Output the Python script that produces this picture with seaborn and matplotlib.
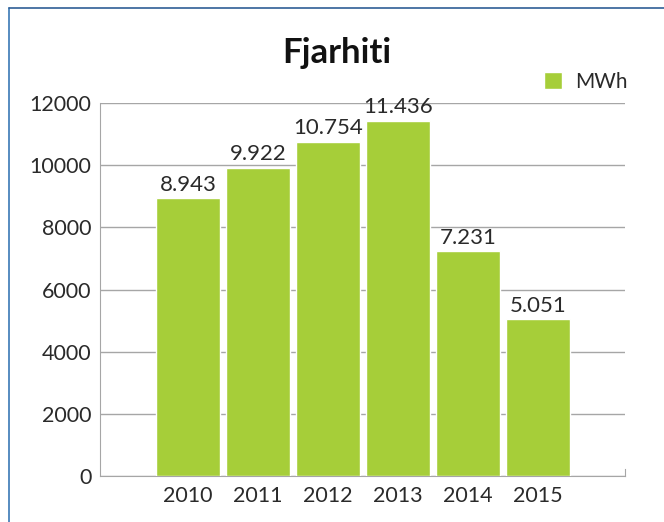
import numpy as np
import pandas as pd
import matplotlib
matplotlib.use("Agg")
import matplotlib.pyplot as plt
import seaborn as sns
from matplotlib.lines import Line2D

# data
years = ["2010", "2011", "2012", "2013", "2014", "2015"]
mwh = [8943, 9922, 10754, 11436, 7231, 5051]
yticks = [0, 2000, 4000, 6000, 8000, 10000, 12000]

sns.set_style("white")
plt.rcParams["font.family"] = ["Lato", "DejaVu Sans"]

green = "#a6ce39"
grid_col = "#a6a6a6"
txt_col = "#2a2a2a"

df = pd.DataFrame({"year": years, "MWh": mwh})

fig = plt.figure(figsize=(6.64, 5.22), dpi=100)
ax = fig.add_axes([100 / 664, 1 - 476 / 522, 525 / 664, 373 / 522])

sns.barplot(data=df, x="year", y="MWh", order=years, color=green, width=0.92,
            saturation=1, label="MWh", ax=ax, zorder=3)

ax.set_xlim(-1.26, 6.24)
ax.set_ylim(0, 12000)
ax.set_yticks(yticks)
ax.set_yticklabels([str(t) for t in yticks])
ax.yaxis.grid(True, color=grid_col, linewidth=1)
ax.set_axisbelow(True)
ax.set_xlabel("")
ax.set_ylabel("")

ax.spines["top"].set_visible(False)
ax.spines["left"].set_color(grid_col)
ax.spines["bottom"].set_color(grid_col)
ax.spines["right"].set_color(grid_col)
ax.spines["right"].set_bounds(0, 220)
ax.tick_params(axis="both", length=0, labelsize=15.5, colors=txt_col, pad=6)
ax.tick_params(axis="x", pad=7)

# value labels in Icelandic format
for i, v in enumerate(mwh):
    ax.text(i, v + 110, f"{v:,}".replace(",", "."), ha="center", va="bottom",
            fontsize=16, color=txt_col)

fig.text(337 / 664, 1 - 53 / 522, "Fjarhiti", ha="center",
         va="center", fontsize=25, fontweight="bold", color="#111111")

leg = ax.legend(loc="center right", bbox_to_anchor=(628 / 664, 1 - 82 / 522),
                bbox_transform=fig.transFigure, frameon=False, fontsize=15,
                handlelength=0.85, handleheight=0.85, handletextpad=0.65,
                borderpad=0, borderaxespad=0)
for t in leg.get_texts():
    t.set_color(txt_col)

# blue frame on the left and top
fig.add_artist(Line2D([9 / 664, 9 / 664], [0, 1 - 8 / 522], color="#3a78b5", lw=1.2))
fig.add_artist(Line2D([9 / 664, 1], [1 - 8 / 522, 1 - 8 / 522], color="#2f5f96", lw=1.2))

fig.savefig("out.png", dpi=100)
